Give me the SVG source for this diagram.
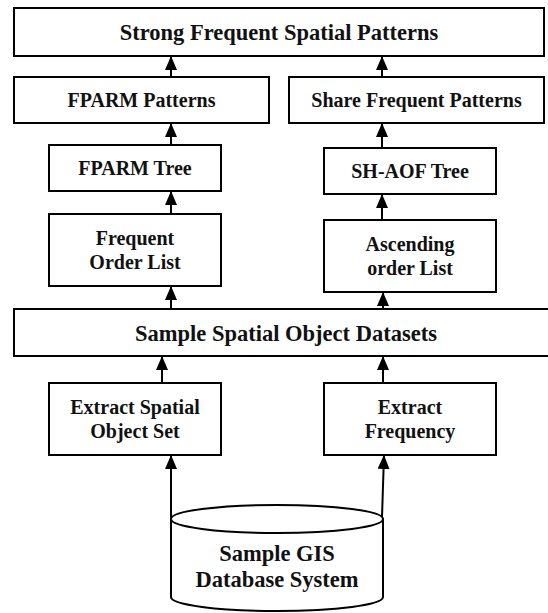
<svg xmlns="http://www.w3.org/2000/svg" width="548" height="613" viewBox="0 0 548 613">
<style>
.box{fill:#fff;stroke:#000;stroke-width:2}
.t{font-family:"Liberation Serif","Times New Roman",serif;font-weight:bold;font-size:20px;text-anchor:middle;dominant-baseline:central;fill:#111}
.big{font-size:22.5px}
.c{stroke:#000;stroke-width:2;fill:none;marker-end:url(#ah)}
</style>
<defs>
<marker id="ah" viewBox="0 0 14 12" refX="14" refY="6" markerWidth="14" markerHeight="12" markerUnits="userSpaceOnUse" orient="auto">
<path d="M0,0 L14,6 L0,12 z" fill="#000"/>
</marker>
</defs>
<rect width="548" height="613" fill="#fff"/>
<g id="connectors">
<line class="c" x1="171" y1="77" x2="171" y2="56"/>
<line class="c" x1="382" y1="77" x2="382" y2="56"/>
<line class="c" x1="171" y1="145" x2="171" y2="123"/>
<line class="c" x1="382" y1="148" x2="382" y2="123"/>
<line class="c" x1="171" y1="214" x2="171" y2="191"/>
<line class="c" x1="382" y1="220" x2="382" y2="194"/>
<line class="c" x1="171" y1="309" x2="171" y2="286"/>
<line class="c" x1="383" y1="309" x2="383" y2="292"/>
<line class="c" x1="162" y1="383" x2="162" y2="356"/>
<line class="c" x1="383" y1="383" x2="383" y2="356"/>
<line class="c" x1="171" y1="519" x2="171" y2="455"/>
<line class="c" x1="382" y1="517" x2="384" y2="455"/>
</g>
<g id="strong">
<rect class="box" x="14" y="8" width="530" height="48"/>
<text class="t big" x="279" y="32">Strong Frequent Spatial Patterns</text>
</g>
<g id="fparm-patterns">
<rect class="box" x="14" y="77" width="255" height="46"/>
<text class="t" x="141.5" y="100">FPARM Patterns</text>
</g>
<g id="share-patterns">
<rect class="box" x="289" y="77" width="255" height="46"/>
<text class="t" x="416.5" y="100">Share Frequent Patterns</text>
</g>
<g id="fparm-tree">
<rect class="box" x="49" y="145" width="172" height="46"/>
<text class="t" x="135" y="168">FPARM Tree</text>
</g>
<g id="shaof-tree">
<rect class="box" x="324" y="148" width="172" height="46"/>
<text class="t" x="410" y="171">SH-AOF Tree</text>
</g>
<g id="frequent-order">
<rect class="box" x="49" y="214" width="172" height="72"/>
<text class="t" x="135" y="238">Frequent</text>
<text class="t" x="135" y="262">Order List</text>
</g>
<g id="ascending-order">
<rect class="box" x="324" y="220" width="172" height="72"/>
<text class="t" x="410" y="244">Ascending</text>
<text class="t" x="410" y="268">order List</text>
</g>
<g id="sample-datasets">
<rect class="box" x="14" y="309" width="545" height="47"/>
<text class="t big" x="286" y="333">Sample Spatial Object Datasets</text>
</g>
<g id="extract-spatial">
<rect class="box" x="49" y="383" width="172" height="72"/>
<text class="t" x="135" y="407">Extract Spatial</text>
<text class="t" x="135" y="431">Object Set</text>
</g>
<g id="extract-frequency">
<rect class="box" x="324" y="383" width="172" height="72"/>
<text class="t" x="410" y="407">Extract</text>
<text class="t" x="410" y="431">Frequency</text>
</g>
<g id="gis-db">
<path class="box" d="M171,519 L171,597 A106,14 0 0 0 383,597 L383,519"/>
<ellipse class="box" cx="277" cy="519" rx="106" ry="14"/>
<text class="t big" x="277" y="553">Sample GIS</text>
<text class="t big" x="277" y="579">Database System</text>
</g>
</svg>
